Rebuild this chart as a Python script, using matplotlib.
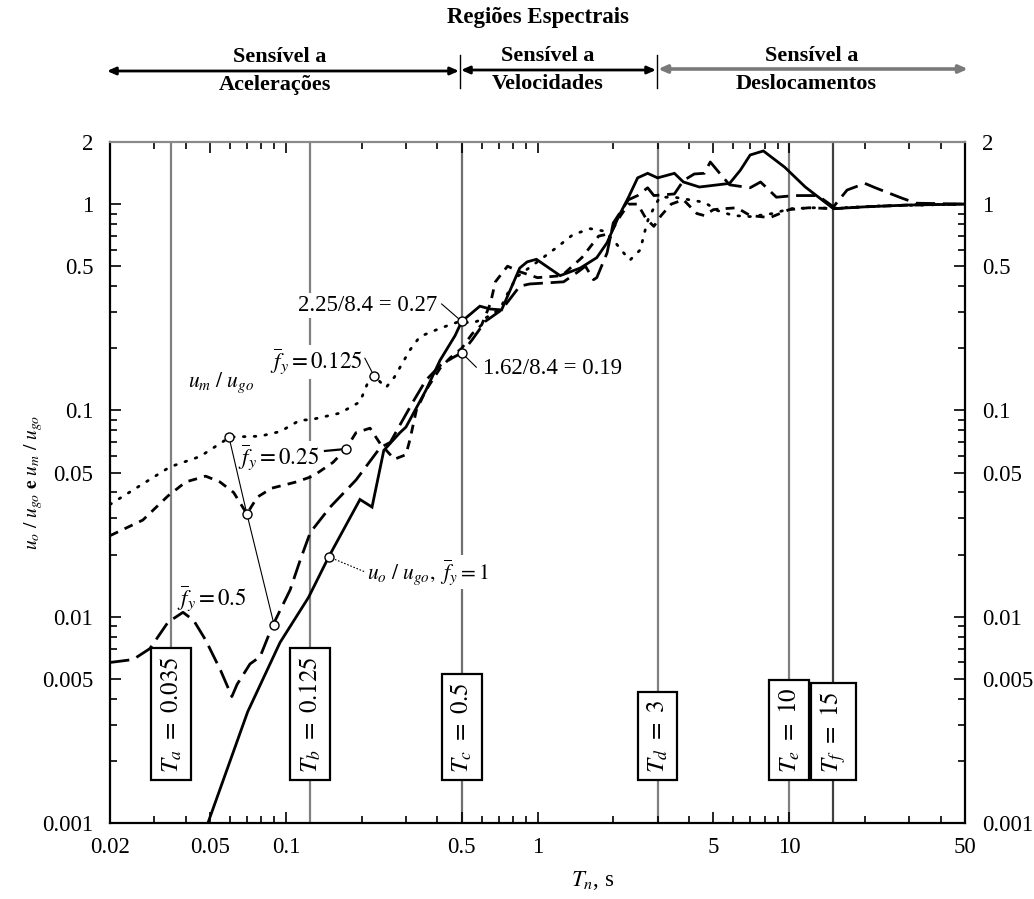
import matplotlib
matplotlib.use('Agg')
import matplotlib.pyplot as plt
from matplotlib.ticker import FixedLocator, NullFormatter, FixedFormatter

plt.rcParams['font.family'] = ['Liberation Serif', 'DejaVu Serif']
plt.rcParams['mathtext.fontset'] = 'stix'

# ---------------- data ----------------
el_T = [0.049, 0.0705, 0.0948, 0.123, 0.148, 0.197, 0.22, 0.245, 0.284, 0.30, 0.36, 0.41, 0.47, 0.50,
        0.59, 0.65, 0.72, 0.85, 0.91, 0.99, 1.23, 1.48, 1.72, 1.89, 2.1, 2.3, 2.5, 2.74, 3.0, 3.5, 3.8,
        4.4, 5.8, 6.4, 7.0, 7.9, 9.6, 11.6, 15, 20, 30, 50]
el_u = [0.001, 0.00346, 0.0075, 0.0124, 0.0195, 0.037, 0.034, 0.064, 0.078, 0.083, 0.125, 0.175, 0.23, 0.27,
        0.32, 0.31, 0.307, 0.49, 0.525, 0.54, 0.45, 0.49, 0.55, 0.65, 0.87, 1.08, 1.34, 1.41, 1.34, 1.41, 1.28,
        1.21, 1.26, 1.46, 1.73, 1.81, 1.51, 1.21, 0.95, 0.97, 0.99, 1.0]

f05_T = [0.02, 0.0247, 0.0288, 0.034, 0.039, 0.043, 0.048, 0.055, 0.061, 0.064, 0.072, 0.079, 0.088, 0.104,
         0.114, 0.125, 0.150, 0.19, 0.237, 0.26, 0.284, 0.32, 0.36, 0.41, 0.46, 0.5, 0.55, 0.62, 0.72, 0.85,
         0.93, 1.27, 1.45, 1.55, 1.67, 1.72, 1.89, 2.0, 2.3, 2.5, 2.74, 2.9, 3.5, 3.8, 4.2, 4.6, 4.86, 5.3,
         5.8, 7.0, 7.7, 8.9, 10.5, 13, 15, 17, 20, 22, 28, 32, 50]
f05_u = [0.0060, 0.0062, 0.0070, 0.0094, 0.0105, 0.0096, 0.0077, 0.0055, 0.0041, 0.0047, 0.0059, 0.0064, 0.0089,
         0.0135, 0.0188, 0.0256, 0.034, 0.046, 0.066, 0.07, 0.085, 0.11, 0.14, 0.165, 0.18, 0.19, 0.22, 0.27,
         0.307, 0.40, 0.41, 0.42, 0.47, 0.50, 0.43, 0.44, 0.58, 0.81, 1.05, 1.1, 1.2, 1.1, 1.12, 1.3, 1.4, 1.41,
         1.6, 1.41, 1.24, 1.2, 1.28, 1.08, 1.1, 1.1, 0.97, 1.17, 1.26, 1.2, 1.07, 1.01, 1.0]

f025_T = [0.02, 0.027, 0.034, 0.040, 0.048, 0.0547, 0.062, 0.070, 0.077, 0.088, 0.11, 0.128, 0.154, 0.173,
          0.19, 0.216, 0.237, 0.27, 0.30, 0.311, 0.33, 0.36, 0.41, 0.45, 0.5, 0.55, 0.6, 0.65, 0.68, 0.76,
          0.85, 1.0, 1.25, 1.5, 1.75, 1.95, 2.1, 2.3, 2.5, 2.7, 2.9, 3.1, 3.4, 3.8, 4.3, 4.6, 5.0, 5.5, 6.2,
          7.0, 8.4, 10, 12, 15, 20, 30, 50]
f025_u = [0.0247, 0.0294, 0.0385, 0.045, 0.048, 0.045, 0.040, 0.0315, 0.038, 0.042, 0.045, 0.048, 0.056, 0.065,
          0.078, 0.082, 0.069, 0.058, 0.061, 0.072, 0.10, 0.125, 0.16, 0.18, 0.20, 0.235, 0.26, 0.33, 0.42, 0.50,
          0.47, 0.44, 0.45, 0.55, 0.70, 0.72, 0.85, 1.0, 1.0, 0.85, 0.78, 0.88, 1.0, 1.05, 0.9, 0.88, 0.94, 0.95,
          0.96, 0.88, 0.86, 0.94, 0.96, 0.95, 0.97, 0.99, 1.0]

f0125_T = [0.02, 0.0346, 0.0456, 0.060, 0.079, 0.095, 0.114, 0.125, 0.164, 0.197, 0.216, 0.224, 0.25, 0.27,
           0.311, 0.341, 0.41, 0.49, 0.55, 0.62, 0.71, 0.77, 0.83, 1.02, 1.2, 1.38, 1.62, 1.84, 2.0, 2.2, 2.33,
           2.56, 2.68, 2.75, 2.95, 3.07, 3.5, 4.6, 5.2, 6.0, 7.0, 8.6, 10.1, 12.5, 15, 23, 50]
f0125_u = [0.035, 0.0532, 0.0598, 0.0743, 0.075, 0.079, 0.0898, 0.090, 0.097, 0.110, 0.145, 0.147, 0.129, 0.145,
           0.196, 0.228, 0.25, 0.27, 0.265, 0.28, 0.31, 0.38, 0.445, 0.535, 0.62, 0.71, 0.76, 0.74, 0.67, 0.58,
           0.535, 0.60, 0.75, 0.84, 1.0, 1.08, 1.08, 1.02, 0.93, 0.88, 0.87, 0.90, 0.95, 0.96, 0.955, 0.98, 1.0]

# characteristic periods
period_names = ['a', 'b', 'c', 'd', 'e', 'f']
period_vals = [0.035, 0.125, 0.5, 3, 10, 15]
period_labels = ['0.035', '0.125', '0.5', '3', '10', '15']

# marked points (chain of peak points)
chain_T = [0.0594, 0.070, 0.0898]
chain_u = [0.0743, 0.0315, 0.00912]

xticks_major = [0.02, 0.05, 0.1, 0.5, 1, 5, 10, 50]
xtick_labels = ['0.02', '0.05', '0.1', '0.5', '1', '5', '10', '50']
yticks_major = [0.001, 0.005, 0.01, 0.05, 0.1, 0.5, 1, 2]
ytick_labels = ['0.001', '0.005', '0.01', '0.05', '0.1', '0.5', '1', '2']

# ---------------- figure ----------------
W, H = 1034, 899
fig = plt.figure(figsize=(W / 100, H / 100), dpi=100)
fig.patch.set_facecolor('white')
ax = fig.add_axes([110 / W, (H - 823) / H, 855 / W, 681 / H])
ax.set_xscale('log')
ax.set_yscale('log')
ax.set_xlim(0.02, 50)
ax.set_ylim(0.001, 2)

# vertical period lines
line_cols = ['#808080', '#808080', '#707070', '#808080', '#808080', '#404040']
for i, (T, c) in enumerate(zip(period_vals, line_cols)):
    ymin = 0.15 if i == 0 else 0.0
    ax.axvline(T, ymin=ymin, ymax=1, color=c, lw=1.6, zorder=1)

# curves
ax.plot(el_T, el_u, color='black', lw=2.0, zorder=3, solid_joinstyle='miter')
ax.plot(f05_T, f05_u, color='black', lw=2.0, dashes=(7, 2.8), zorder=3)
ax.plot(f025_T, f025_u, color='black', lw=2.0, dashes=(3.2, 2.6), zorder=3)
ax.plot(f0125_T, f0125_u, color='black', lw=2.0, dashes=(0.6, 3.3), dash_capstyle='round', zorder=3)

# chain connecting peaks
ax.plot(chain_T, chain_u, color='black', lw=0.8, zorder=3.5)
mk = dict(marker='o', ms=6.5, mfc='white', mec='black', mew=1.0, ls='none', zorder=4)
ax.plot(chain_T, chain_u, **mk)
ax.plot([0.5, 0.5], [0.27, 0.19], **mk)
ax.plot([0.224], [0.147], **mk)
ax.plot([0.173], [0.065], **mk)
ax.plot([0.148], [0.0195], **mk)

# leaders
ax.plot([0.416, 0.5], [0.328, 0.27], color='black', lw=0.8, zorder=3.5)
ax.plot([0.5, 0.571], [0.19, 0.162], color='black', lw=0.8, zorder=3.5)
ax.plot([0.206, 0.224], [0.179, 0.147], color='black', lw=0.8, zorder=3.5)
ax.plot([0.143, 0.173], [0.0636, 0.065], color='black', lw=1.6, zorder=3.5)
ax.plot([0.148, 0.206], [0.0195, 0.0165], color='black', lw=0.8, ls=(0, (1.5, 1.5)), zorder=3.5)

fs = 16.5
wb = dict(facecolor='white', edgecolor='none', pad=1.5)
ax.text(0.399, 0.324, '2.25/8.4 = 0.27', fontsize=fs, ha='right', va='center', bbox=wb, zorder=2)
ax.text(0.607, 0.1605, '1.62/8.4 = 0.19', fontsize=fs, ha='left', va='center', bbox=wb, zorder=2)
ax.text(0.201, 0.172, r'$\overline{f}_y = 0.125$', fontsize=fs, ha='right', va='center', bbox=wb, zorder=2)
ax.text(0.0408, 0.136, r'$u_m\ /\ u_{go}$', fontsize=fs - 1, ha='left', va='center', bbox=wb, zorder=2)
ax.text(0.0645, 0.059, r'$\overline{f}_y = 0.25$', fontsize=fs, ha='left', va='center', bbox=wb, zorder=2)
ax.text(0.0369, 0.0122, r'$\overline{f}_y = 0.5$', fontsize=fs, ha='left', va='center', bbox=wb, zorder=2)
ax.text(0.210, 0.0165, r'$u_o\ /\ u_{go},\ \overline{f}_y = 1$', fontsize=fs - 1, ha='left', va='center',
        bbox=wb, zorder=2)

# period boxes
tr = ax.get_xaxis_transform()
for n, T, lab in zip(period_names, period_vals, period_labels):
    ax.text(T, 0.074, r'$T_{%s}\ =\ %s$' % (n, lab), rotation=90, fontsize=18, ha='center', va='bottom',
            transform=tr, zorder=5,
            bbox=dict(boxstyle='square,pad=0.3', facecolor='white', edgecolor='black', lw=1.6))

# axes styling
for s in ['left', 'bottom', 'right']:
    ax.spines[s].set_linewidth(1.6)
    ax.spines[s].set_color('black')
ax.spines['top'].set_linewidth(1.6)
ax.spines['top'].set_color('#8a8a8a')

ax.xaxis.set_major_locator(FixedLocator(xticks_major))
ax.xaxis.set_major_formatter(FixedFormatter(xtick_labels))
minor_x = [m * d for d in [0.01, 0.1, 1, 10] for m in range(2, 10) if 0.02 <= m * d <= 50 and m * d not in xticks_major]
ax.xaxis.set_minor_locator(FixedLocator(minor_x))
ax.xaxis.set_minor_formatter(NullFormatter())
ax.yaxis.set_major_locator(FixedLocator(yticks_major))
ax.yaxis.set_major_formatter(FixedFormatter(ytick_labels))
minor_y = [m * d for d in [0.001, 0.01, 0.1, 1] for m in range(2, 10) if 0.001 <= m * d <= 2 and m * d not in yticks_major]
ax.yaxis.set_minor_locator(FixedLocator(minor_y))
ax.yaxis.set_minor_formatter(NullFormatter())

ax.tick_params(which='both', direction='in', top=True, right=True, labelright=True, labelsize=fs,
               width=1.2)
ax.tick_params(which='major', length=8, pad=10)
ax.tick_params(which='minor', length=5)
ax.tick_params(axis='y', which='major', pad=12)

ax.set_xlabel(r'$T_n$, s', fontsize=fs)
ax.xaxis.set_label_coords(0.565, -0.068)
ax.set_ylabel(r'$u_o\ /\ u_{go}$ $\mathbf{e}$ $u_m\ /\ u_{go}$', fontsize=14)
ax.yaxis.set_label_coords(-0.076, 0.5)

# ---------------- spectral regions header ----------------
ov = fig.add_axes([0, 0, 1, 1], facecolor='none')
ov.set_xlim(0, W)
ov.set_ylim(H, 0)
ov.axis('off')
ov.text(538, 18, 'Regiões Espectrais', fontsize=16.5, fontweight='bold', ha='center', va='center')

ap = dict(arrowstyle='<|-|>,head_length=0.5,head_width=0.22', color='black', lw=2.0,
          shrinkA=0, shrinkB=0)
ov.annotate('', xy=(107, 71), xytext=(459, 71), arrowprops=ap)
ov.annotate('', xy=(461, 70), xytext=(656, 70), arrowprops=ap)
ap2 = dict(ap)
ap2['color'] = '#7a7a7a'
ap2['lw'] = 2.6
ov.annotate('', xy=(658, 69), xytext=(968, 69), arrowprops=ap2)
ov.plot([460, 460], [55, 88], color='black', lw=1.0)
ov.plot([657, 657], [55, 88], color='black', lw=1.0)

hfs = 16
ov.text(280, 57, 'Sensível a', fontsize=hfs, fontweight='bold', ha='center', va='center')
ov.text(275, 85, 'Acelerações', fontsize=hfs, fontweight='bold', ha='center', va='center')
ov.text(548, 56, 'Sensível a', fontsize=hfs, fontweight='bold', ha='center', va='center')
ov.text(548, 84, 'Velocidades', fontsize=hfs, fontweight='bold', ha='center', va='center')
ov.text(812, 56, 'Sensível a', fontsize=hfs, fontweight='bold', ha='center', va='center')
ov.text(806, 84, 'Deslocamentos', fontsize=hfs, fontweight='bold', ha='center', va='center')

fig.savefig('out.png', dpi=100, facecolor='white')
